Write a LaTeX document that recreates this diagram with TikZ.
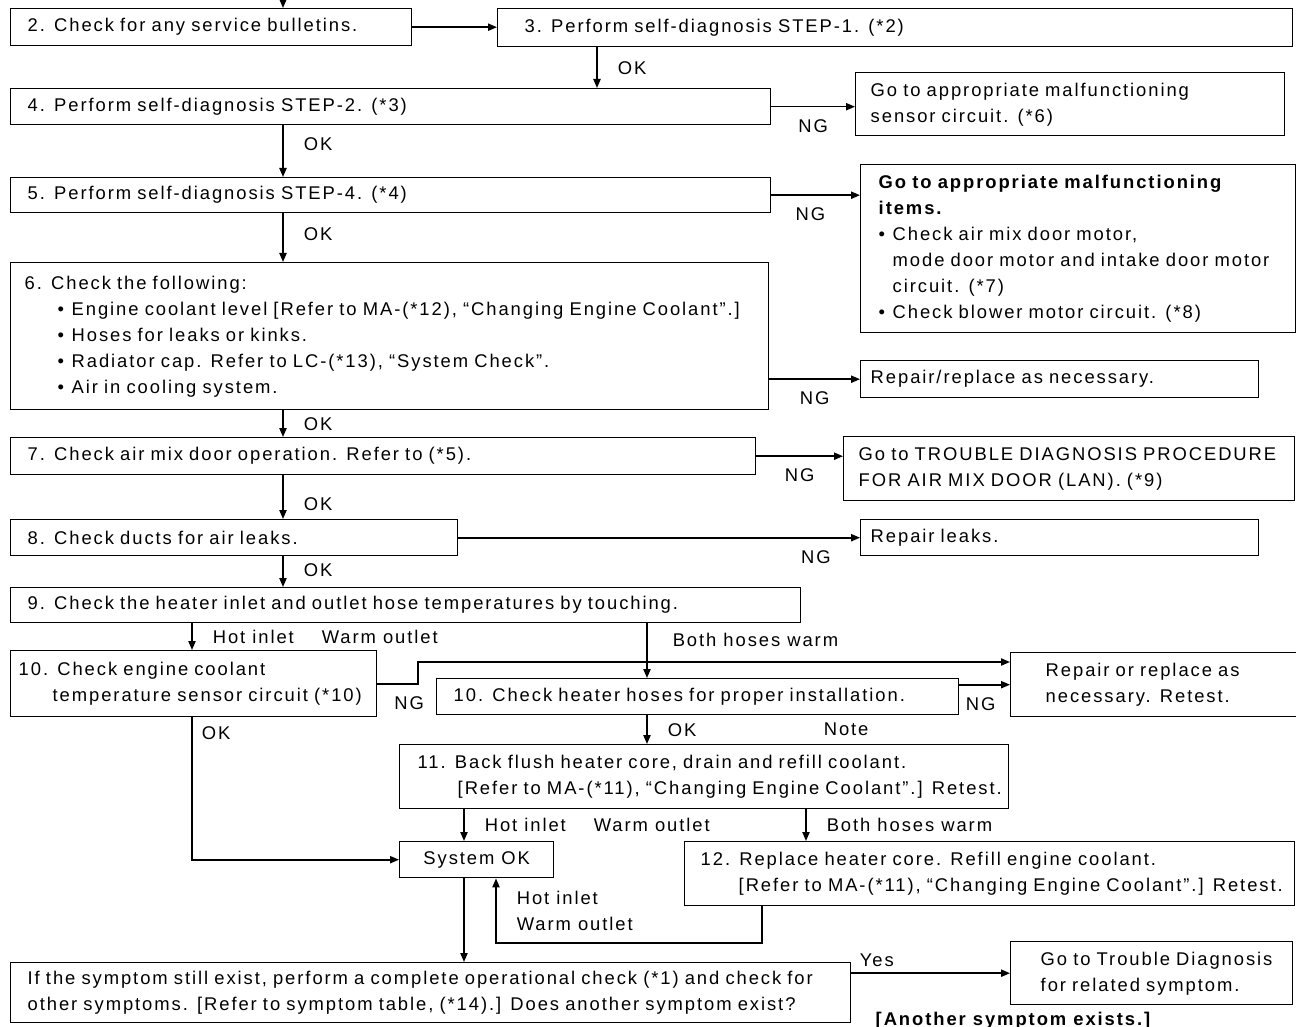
\documentclass[tikz,border=0pt]{standalone}
\usepackage{fontspec}
\setmainfont{Liberation Sans}[LetterSpace=10.5]
\usetikzlibrary{arrows.meta}

\newcommand\rows[1]{\begin{tabular}{@{}l@{}}#1\end{tabular}}
\newcommand\bul{\makebox[7pt][l]{\textbullet}}

\begin{document}
\begin{tikzpicture}[x=0.5pt, y=-0.5pt,
    box/.style={draw, line width=0.7pt, anchor=north west, align=left, inner ysep=0pt,
        font=\fontsize{9.2}{13}\selectfont},
    lbl/.style={inner sep=2pt, font=\fontsize{9.2}{13}\selectfont},
    oklbl/.style={lbl, right=8pt},
    ng/.style={lbl, below=4pt},
    arr/.style={line width=0.8pt, -{Triangle[length=4.5pt, width=3.6pt]}}]
    \useasboundingbox (0,0) rectangle (1296,1027);

    % Define columns for the vertical connectors
    \coordinate (top) at (283,0);
    \coordinate (c1) at (283,0);
    \coordinate (c2) at (597,0);
    \coordinate (c3) at (192,0);
    \coordinate (c4) at (647,0);
    \coordinate (c5) at (464,0);
    \coordinate (c6) at (806,0);
    \coordinate (c7) at (762,0);
    \coordinate (jog) at (418,662);
    \coordinate (bend) at (496,943);

    % Define step boxes
    \node[box, inner xsep=8.5pt, text width=183.5pt, minimum height=18.5pt] (s2) at (10,8) {2. Check for any service bulletins.};
    \node[box, inner xsep=13.5pt, text width=370.5pt, minimum height=19pt] (s3) at (497,8) {3. Perform self-diagnosis STEP-1. (*2)};
    \node[box, inner xsep=8.5pt, text width=363pt, minimum height=18pt] (s4) at (10,88) {4. Perform self-diagnosis STEP-2. (*3)};
    \node[box, inner xsep=8.5pt, text width=363pt, minimum height=17.5pt] (s5) at (10,177) {5. Perform self-diagnosis STEP-4. (*4)};
    \node[box, inner xsep=7pt, text width=365pt, minimum height=73.5pt] (s6) at (10,262) {\rows{6. Check the following:\\
        \hspace*{16.5pt}\bul Engine coolant level [Refer to MA-(*12), “Changing Engine Coolant”.]\\
        \hspace*{16.5pt}\bul Hoses for leaks or kinks.\\
        \hspace*{16.5pt}\bul Radiator cap. Refer to LC-(*13), “System Check”.\\
        \hspace*{16.5pt}\bul Air in cooling system.}};
    \node[box, inner xsep=8.5pt, text width=355.5pt, minimum height=18.5pt] (s7) at (10,437) {7. Check air mix door operation. Refer to (*5).};
    \node[box, inner xsep=8.5pt, text width=206.5pt, minimum height=18pt] (s8) at (10,519) {8. Check ducts for air leaks.};
    \node[box, inner xsep=8.5pt, text width=378pt, minimum height=17.5pt] (s9) at (10,587) {9. Check the heater inlet and outlet hose temperatures by touching.};
    \node[box, inner xsep=4pt, text width=175pt, minimum height=33pt] (s10a) at (10,650) {\rows{10. Check engine coolant\\
        \hspace*{17pt}temperature sensor circuit (*10)}};
    \node[box, inner xsep=8.5pt, text width=244pt, minimum height=18pt] (s10b) at (436,678) {10. Check heater hoses for proper installation.};
    \node[box, inner xsep=9pt, text width=286.5pt, minimum height=32pt] (s11) at (399,744) {\rows{11. Back flush heater core, drain and refill coolant.\\
        \hspace*{20pt}[Refer to MA-(*11), “Changing Engine Coolant”.] Retest.}};
    \node[box, minimum width=77pt, minimum height=18pt] (sysok) at (399,841) {System OK};
    \node[box, inner xsep=8pt, text width=289pt, minimum height=32pt] (s12) at (684,841) {\rows{12. Replace heater core. Refill engine coolant.\\
        \hspace*{19pt}[Refer to MA-(*11), “Changing Engine Coolant”.] Retest.}};
    \node[box, inner xsep=8.5pt, text width=403pt, minimum height=30pt] (fin) at (10,962) {\rows{If the symptom still exist, perform a complete operational check (*1) and check for\\
        other symptoms. [Refer to symptom table, (*14).] Does another symptom exist?}};

    % Define result boxes
    \node[box, inner xsep=7.5pt, text width=199.5pt, minimum height=31.5pt] (r4) at (855,72) {\rows{Go to appropriate malfunctioning\\sensor circuit. (*6)}};
    \node[box, inner xsep=9pt, text width=199.5pt, minimum height=84pt] (r5) at (860,164) {\rows{\textbf{Go to appropriate malfunctioning}\\
        \textbf{items.}\\
        \bul Check air mix door motor,\\
        \hspace*{7pt}mode door motor and intake door motor\\
        \hspace*{7pt}circuit. (*7)\\
        \bul Check blower motor circuit. (*8)}};
    \node[box, inner xsep=5pt, text width=189pt, minimum height=18.5pt] (r6) at (860,360) {Repair/replace as necessary.};
    \node[box, inner xsep=7.5pt, text width=210.5pt, minimum height=32pt] (r7) at (843,436) {\rows{Go to TROUBLE DIAGNOSIS PROCEDURE\\FOR AIR MIX DOOR (LAN). (*9)}};
    \node[box, inner xsep=5pt, text width=189pt, minimum height=18pt] (r8) at (860,519) {Repair leaks.};
    \node[box, inner xsep=17.5pt, text width=108pt, minimum height=32pt] (r10) at (1010,652) {\rows{Repair or replace as\\necessary. Retest.}};
    \node[box, inner xsep=15pt, text width=111pt, minimum height=31.5pt] (ryes) at (1010,941) {\rows{Go to Trouble Diagnosis\\for related symptom.}};
    \node[lbl, anchor=base, font=\fontsize{9.2}{13}\selectfont\bfseries] (another) at (1013,1025) {[Another symptom exists.]};

    % Draw the main line of checks
    \draw[arr] (top) -- (s2.north -| top);
    \draw[arr] (s2.east) -- (s2.east -| s3.west);
    \draw[arr] (s3.south -| c2) -- node[oklbl] {OK} (s4.north -| c2);
    \draw[arr] (s4.south -| c1) -- node[oklbl, pos=.36] {OK} (s5.north -| c1);
    \draw[arr] (s5.south -| c1) -- node[oklbl, pos=.42] {OK} (s6.north -| c1);
    \draw[arr] (s6.south -| c1) -- node[oklbl] {OK} (s7.north -| c1);
    \draw[arr] (s7.south -| c1) -- node[oklbl, pos=.67] {OK} (s8.north -| c1);
    \draw[arr] (s8.south -| c1) -- node[oklbl, pos=.44] {OK} (s9.north -| c1);

    % Draw the NG branches
    \draw[arr] (s4.east) -- node[ng] {NG} (s4.east -| r4.west);
    \draw[arr] (s5.east) -- node[ng, pos=.44] {NG} (s5.east -| r5.west);
    \draw[arr] (s6.east |- r6.west) -- node[ng] {NG} (r6.west);
    \draw[arr] (s7.east) -- node[ng] {NG} (s7.east -| r7.west);
    \draw[arr] (s8.east) -- node[ng, pos=.89] {NG} (s8.east -| r8.west);

    % Draw the heater hose branches
    \draw[arr] (s9.south -| c3) -- node[oklbl] {Hot inlet\hspace{14pt}Warm outlet} (s10a.north -| c3);
    \draw[arr] (s9.south -| c4) -- node[lbl, pos=.3, right=10.5pt] {Both hoses warm} (s10b.north -| c4);
    \draw[arr] (s10a.east) -| node[ng, pos=.39] {NG} (jog) -- (jog -| r10.west);
    \draw[arr] (s10b.east |- r10.west) -- node[ng, pos=.42] {NG} (r10.west);
    \draw[arr] (s10b.south -| c4) -- node[oklbl] {OK} node[lbl, right=86pt] {Note} (s11.north -| c4);
    \draw[arr] (s11.south -| c5) -- node[oklbl] {Hot inlet\hspace{14pt}Warm outlet} (sysok.north -| c5);
    \draw[arr] (s11.south -| c6) -- node[oklbl] {Both hoses warm} (s12.north -| c6);
    \draw[arr] (s10a.south -| c3) |- node[lbl, pos=.056, right=2.5pt] {OK} (sysok.west);
    \draw[arr] (s12.south -| c7) |- (bend) -- node[oklbl, align=left] {Hot inlet\\Warm outlet} (sysok.south -| bend);

    % Draw the final question
    \draw[arr] (sysok.south -| c5) -- (fin.north -| c5);
    \draw[arr] (fin.east |- ryes.west) -- node[lbl, above=1pt, pos=.16] {Yes} (ryes.west);
\end{tikzpicture}
\end{document}
